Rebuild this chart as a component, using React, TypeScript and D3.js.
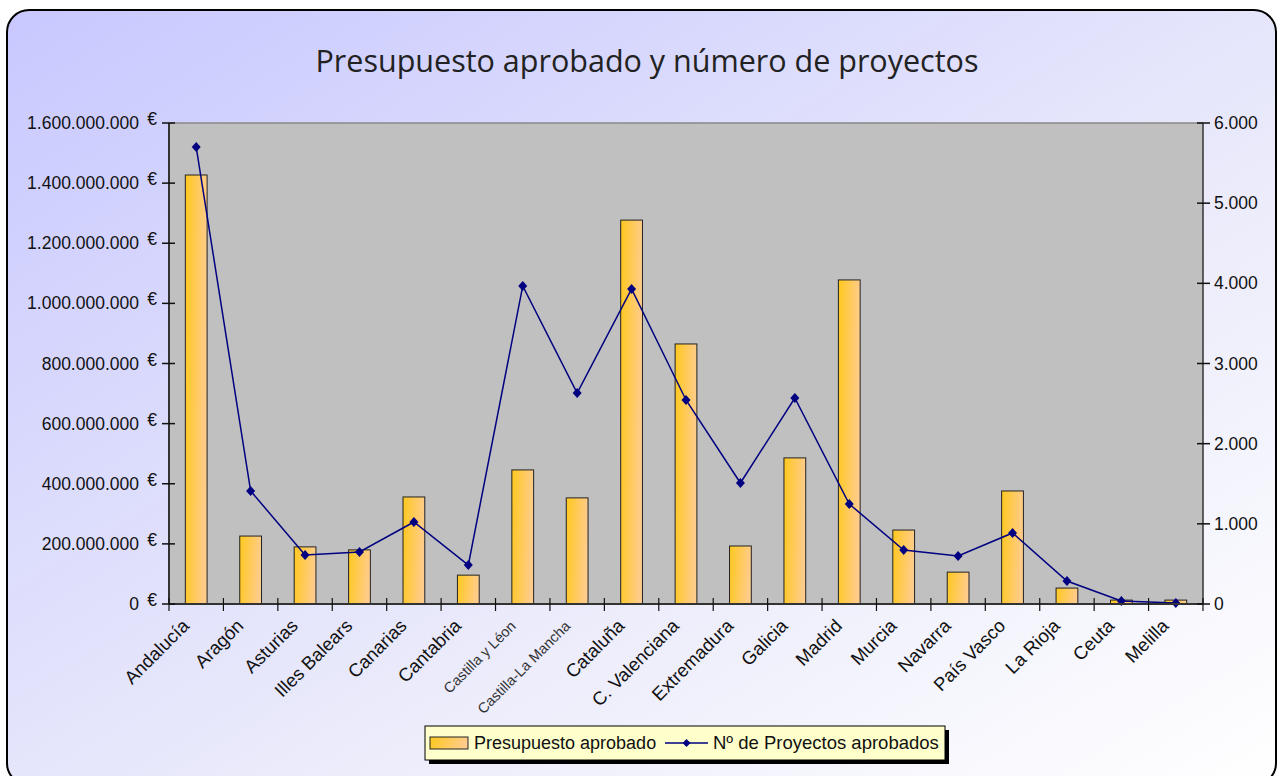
import React from "react";
import * as d3 from "d3";

const categories = ["Andalucía","Aragón","Asturias","Illes Balears","Canarias","Cantabria","Castilla y Léon","Castilla-La Mancha","Cataluña","C. Valenciana","Extremadura","Galicia","Madrid","Murcia","Navarra","País Vasco","La Rioja","Ceuta","Melilla"];
const presupuesto = [1427e6,226e6,190e6,180e6,356e6,96e6,446e6,353e6,1277e6,865e6,193e6,486e6,1078e6,246e6,106e6,376e6,53e6,13e6,13e6];
const proyectos = [5700,1410,611,649,1023,486,3967,2632,3929,2545,1509,2570,1247,674,599,886,287,37,12];
const leftTicks = [0,200e6,400e6,600e6,800e6,1000e6,1200e6,1400e6,1600e6];
const rightTicks = [0,1000,2000,3000,4000,5000,6000];
const smallLabels = ["Castilla y Léon","Castilla-La Mancha"];

const W = 1279, H = 776;
const M = { left: 169, right: 1203, top: 123, bottom: 604 };

function fmt(v: number) {
  return d3.format(",.0f")(v).replace(/,/g, ".");
}

export default function App() {
  const x = d3.scaleBand().domain(categories).range([M.left, M.right]).paddingInner(0).paddingOuter(0);
  const yL = d3.scaleLinear().domain([0, 1.6e9]).range([M.bottom, M.top]);
  const yR = d3.scaleLinear().domain([0, 6000]).range([M.bottom, M.top]);
  const bw = x.bandwidth() * 0.4;
  const cx = (c: string) => (x(c) as number) + x.bandwidth() / 2;
  const line = d3.line<number>().x((_, i) => cx(categories[i])).y((d) => yR(d));
  const font = "'Liberation Sans', Arial, sans-serif";
  return (
    <svg width={W} height={H} style={{ position: "absolute", left: 0, top: 0 }} fontFamily={font}>
      <defs>
        <linearGradient id="bg" x1="0" y1="0" x2="1" y2="1">
          <stop offset="0" stopColor="#c8c8ff" />
          <stop offset="0.6" stopColor="#ebebfb" />
          <stop offset="1" stopColor="#ffffff" />
        </linearGradient>
        <linearGradient id="bar" x1="0" y1="0" x2="1" y2="0.15">
          <stop offset="0" stopColor="#ffc81e" />
          <stop offset="1" stopColor="#ffcc8c" />
        </linearGradient>
      </defs>
      <rect x={7} y={10} width={1269} height={775} rx={22} ry={22} fill="url(#bg)" stroke="#000" strokeWidth={2} />
      <text x={647} y={72} textAnchor="middle" fontFamily="'Open Sans', 'Noto Sans', sans-serif" fontSize={30.5} fill="#222">
        Presupuesto aprobado y número de proyectos
      </text>
      <rect x={M.left} y={M.top} width={M.right - M.left} height={M.bottom - M.top} fill="#c0c0c0" />
      <line x1={M.left} x2={M.right} y1={M.top} y2={M.top} stroke="#888" strokeWidth={1.5} />
      {categories.map((c, i) => (
        <rect key={c} x={cx(c) - bw / 2} y={yL(presupuesto[i])} width={bw} height={M.bottom - yL(presupuesto[i])}
          fill="url(#bar)" stroke="#222" strokeWidth={1} />
      ))}
      <path d={line(proyectos) || ""} fill="none" stroke="#000080" strokeWidth={1.5} />
      {proyectos.map((v, i) => {
        const px = cx(categories[i]), py = yR(v);
        return <path key={i} d={`M${px},${py - 5}L${px + 4.5},${py}L${px},${py + 5}L${px - 4.5},${py}Z`} fill="#000080" />;
      })}
      <line x1={M.left} x2={M.left} y1={M.top} y2={M.bottom} stroke="#333" strokeWidth={2} />
      <line x1={M.right} x2={M.right} y1={M.top} y2={M.bottom} stroke="#333" strokeWidth={1.5} />
      <line x1={M.left} x2={M.right} y1={M.bottom} y2={M.bottom} stroke="#333" strokeWidth={2} />
      {leftTicks.map((t) => (
        <g key={t}>
          <line x1={M.left - 7} x2={M.left + 6} y1={yL(t)} y2={yL(t)} stroke="#111" strokeWidth={1.5} />
          <text x={M.left - 30} y={yL(t) + 6} textAnchor="end" fontSize={17.5} fill="#111">{fmt(t)}</text>
          <text x={M.left - 12} y={yL(t) + 2} textAnchor="end" fontSize={17.5} fill="#111">€</text>
        </g>
      ))}
      {rightTicks.map((t) => (
        <g key={t}>
          <line x1={M.right - 6} x2={M.right + 7} y1={yR(t)} y2={yR(t)} stroke="#111" strokeWidth={1.5} />
          <text x={M.right + 11} y={yR(t) + 6} textAnchor="start" fontSize={17.5} fill="#111">{fmt(t)}</text>
        </g>
      ))}
      {categories.map((c) => (
        <line key={c} x1={x(c) as number} x2={x(c) as number} y1={M.bottom - 6} y2={M.bottom + 7} stroke="#111" strokeWidth={1.2} />
      ))}
      <line x1={M.right} x2={M.right} y1={M.bottom - 6} y2={M.bottom + 7} stroke="#111" strokeWidth={1.2} />
      {categories.map((c) => {
        const small = smallLabels.includes(c);
        const tx = cx(c) - 6, ty = M.bottom + 23;
        return (
          <text key={c} x={tx} y={ty} textAnchor="end" fontSize={small ? 14.5 : 18.5} fill={small ? "#333" : "#111"}
            transform={`rotate(-45 ${tx} ${ty})`}>{c}</text>
        );
      })}
      <rect x={429} y={730} width={520} height={34} fill="#000" />
      <rect x={425} y={726} width={520} height={34} fill="#ffffcc" stroke="#000" strokeWidth={1} />
      <rect x={430} y={737} width={38} height={12} fill="url(#bar)" stroke="#222" strokeWidth={1} />
      <text x={474} y={749} fontSize={18} fill="#111">Presupuesto aprobado</text>
      <line x1={665} x2={708} y1={743} y2={743} stroke="#000080" strokeWidth={1.5} />
      <path d="M686.5,739L690.5,743L686.5,747L682.5,743Z" fill="#000080" />
      <text x={713} y={749} fontSize={18.5} fill="#111">Nº de Proyectos aprobados</text>
    </svg>
  );
}
